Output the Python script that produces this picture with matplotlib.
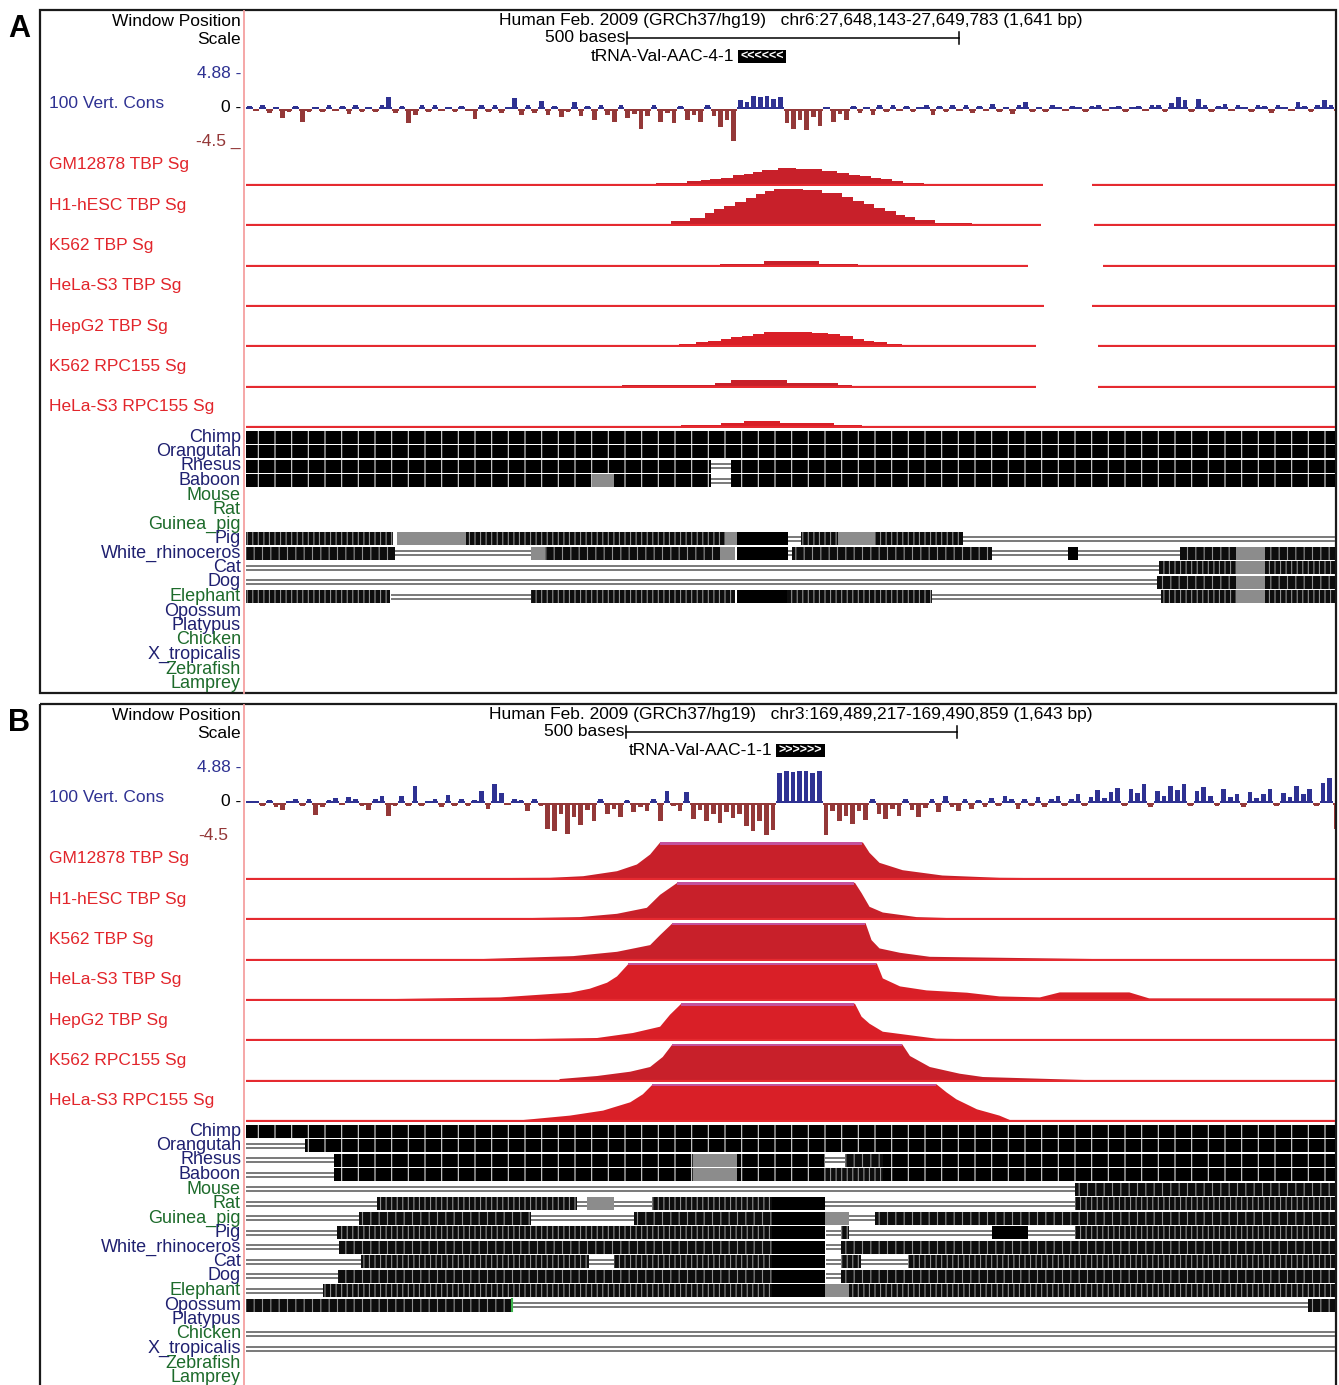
import numpy as np
import matplotlib
matplotlib.use('Agg')
import matplotlib.pyplot as plt
from matplotlib.patches import Rectangle

# ---------------- data ----------------
TRACK_NAMES = ['GM12878 TBP Sg', 'H1-hESC TBP Sg', 'K562 TBP Sg', 'HeLa-S3 TBP Sg',
               'HepG2 TBP Sg', 'K562 RPC155 Sg', 'HeLa-S3 RPC155 Sg']
SPECIES = ['Chimp', 'Orangutan', 'Rhesus', 'Baboon', 'Mouse', 'Rat', 'Guinea_pig', 'Pig',
           'White_rhinoceros', 'Cat', 'Dog', 'Elephant', 'Opossum', 'Platypus', 'Chicken',
           'X_tropicalis', 'Zebrafish', 'Lamprey']

A_HEADER = 'Human Feb. 2009 (GRCh37/hg19)   chr6:27,648,143-27,649,783 (1,641 bp)'
B_HEADER = 'Human Feb. 2009 (GRCh37/hg19)   chr3:169,489,217-169,490,859 (1,643 bp)'
A_SPAN, B_SPAN = 1641, 1643
SCALE_BP = 500
A_SCALE_START, B_SCALE_START = 574, 573
A_GENE = ('tRNA-Val-AAC-4-1', 741, 814, '-')
B_GENE = ('tRNA-Val-AAC-1-1', 799, 873, '+')

# 100 vertebrate conservation, 10 bp bins
A_CONS = [0.4, -0.3, 0.5, -0.6, 0.3, -1.3, -0.5, 0.4, -1.8, -0.4,
          0.3, -0.5, 0.5, -0.3, 0.4, -0.7, 0.6, -0.4, 0.3, -0.5,
          0.5, 1.6, -0.6, 0.4, -2.0, -0.8, 0.5, -0.4, 0.6, -0.3,
          0.3, -0.5, 0.4, -0.3, -1.4, 0.5, -0.4, 0.6, -0.6, 0.3,
          1.5, -0.8, 0.5, -0.6, 1.1, -0.9, 0.4, -1.2, -0.5, 1.0,
          -1.0, 0.4, -1.5, 0.6, -0.8, -1.9, 0.5, -1.3, -0.7, -2.8,
          -1.0, 0.6, -1.9, -0.6, -2.0, 0.4, -1.5, -0.8, -1.9, 0.6,
          -1.0, -2.6, -1.5, -4.5, 1.3, 1.0, 1.8, 1.6, 1.8, 1.4,
          1.6, -2.0, -2.8, -1.6, -3.0, -1.2, -2.4, 0.3, -1.8, -0.7,
          -1.5, 0.4, -0.6, 0.3, -0.8, 0.5, -0.4, 0.6, -0.3, 0.4,
          -0.5, 0.3, 0.5, -0.9, 0.4, -0.4, 0.6, -0.3, 0.5, -0.6,
          0.4, -0.3, 0.7, -0.5, 0.3, -0.7, 0.5, 1.0, -0.4, 0.3,
          -0.4, 0.5, 0.3, -0.3, 0.4, 0.3, -0.5, 0.4, 0.6, -0.3,
          0.3, 0.4, -0.5, 0.3, 0.4, -0.3, 0.5, 0.6, -0.4, 0.8,
          1.7, 1.2, -0.4, 1.4, 0.6, -0.5, 0.4, 0.7, -0.3, 0.5,
          0.3, -0.4, 0.5, 0.4, -0.6, 0.6, 0.3, -0.3, 1.0, 0.4,
          -0.5, 0.6, 1.2, 0.5, -0.4]
B_CONS = [0.3, 0.2, -0.4, 0.4, -0.6, -1.0, 0.3, 0.5, -0.4, 0.6,
          -1.7, -0.6, 0.4, 0.7, -0.3, 0.8, 0.5, -0.4, -1.0, 0.6,
          0.9, -1.8, -0.4, 1.0, -0.5, 2.3, -0.4, 0.3, 0.5, -0.6,
          1.1, -0.5, 0.6, -0.4, 0.4, 1.7, -0.8, 2.7, 1.4, -0.3,
          0.5, 0.4, -1.2, 0.6, -0.5, -3.6, -3.9, -1.5, -4.3, -2.0,
          -3.1, -1.0, -2.6, 0.5, -1.5, -0.8, -2.0, 0.4, -1.3, -0.6,
          -1.2, 0.6, -2.5, 1.6, -0.5, -1.1, 1.5, -2.2, -1.0, -2.5,
          -1.6, -2.8, -1.3, -2.1, -1.5, -3.3, -4.0, -2.6, -4.6, -3.8,
          4.2, 4.5, 4.3, 4.4, 4.4, 4.2, 4.5, -4.5, -1.2, -2.6,
          -1.8, -3.0, -1.2, -2.4, 0.5, -1.6, -2.2, -0.8, -1.9, 0.6,
          -1.0, -2.0, -0.7, 0.6, -1.3, 0.9, -0.6, -1.1, 0.5, -0.8,
          0.4, -0.6, 0.7, -0.5, 0.9, 0.6, -0.8, 0.5, -0.4, 0.8,
          -0.6, 0.5, 0.9, -0.5, 0.6, 1.2, -0.4, 0.8, 1.8, 0.7,
          1.5, 2.1, -0.5, 1.9, 1.4, 2.6, -0.6, 1.7, 0.9, 2.3,
          1.8, 2.7, -0.5, 1.6, 2.2, 1.0, -0.4, 1.9, 0.8, 1.3,
          -0.6, 1.5, 0.7, 1.2, 2.0, -0.5, 1.4, 0.8, 2.4, 1.2,
          1.9, -0.5, 2.8, 3.5, -3.7]

# TBP / RPC155 signal, panel A (stepped), positions in bp from window start
A_POS = [[0, 618, 665, 686, 699, 716, 734, 750, 764, 778, 802, 829, 868, 891, 909, 925, 942, 957, 974, 990, 1022],
         [0, 603, 640, 669, 692, 705, 720, 737, 753, 768, 782, 796, 839, 868, 898, 915, 931, 946, 963, 980, 993, 1008, 1038, 1094],
         [0, 714, 781, 864, 922],
         [0],
         [0, 653, 678, 696, 716, 731, 747, 764, 781, 853, 877, 895, 915, 931, 946, 966, 988],
         [0, 567, 707, 731, 815, 892, 913],
         [0, 656, 716, 750, 805, 886, 928]]
A_VAL = [[0, 1.7, 4, 5, 6.5, 7.5, 10, 11, 13, 15, 17, 16, 14.5, 12, 10.5, 9, 7.5, 6, 4, 2, 0],
         [0, 1.5, 4, 7.5, 12.5, 16, 19, 23, 27, 31, 34, 36.5, 35, 32, 28, 24, 21, 17, 14, 10, 8, 5, 2.5, 0],
         [0, 2, 4.3, 2, 0],
         [0],
         [0, 2, 4.3, 5.7, 7.3, 9, 10.7, 12.7, 14, 13, 12.3, 10, 7.7, 5.7, 4, 2.3, 0],
         [0, 2, 4, 6.3, 4, 2, 0],
         [0, 2, 4, 5.7, 4, 2, 0]]
A_COVER = [[(0, 1201), (1275, 1641)], [(0, 1198), (1278, 1641)], [(0, 1178), (1291, 1641)],
           [(0, 1203), (1275, 1641)], [(0, 1190), (1284, 1641)], [(0, 1190), (1284, 1641)],
           [(0, 1641)]]

# panel B signal (values above the view limit are clipped)
B_POS = [[0, 250, 255, 458, 508, 559, 589, 609, 624, 930, 940, 955, 990, 1050, 1136, 1264, 1270, 1643],
         [0, 365, 368, 503, 559, 604, 624, 650, 918, 928, 940, 960, 1011, 1071, 1227, 1643],
         [0, 350, 353, 493, 559, 609, 624, 643, 934, 943, 955, 986, 1031, 1287, 1292, 1643],
         [0, 185, 187, 383, 488, 518, 544, 559, 577, 951, 960, 986, 1026, 1087, 1136, 1197, 1227, 1332, 1362, 1643],
         [0, 365, 368, 529, 583, 624, 639, 656, 918, 928, 940, 960, 1041, 1136, 1140, 1643],
         [0, 470, 473, 529, 579, 609, 628, 643, 989, 1001, 1031, 1076, 1111, 1264, 1270, 1643],
         [0, 410, 413, 488, 538, 579, 598, 613, 1041, 1056, 1071, 1102, 1136, 1151, 1155, 1643]]
B_VAL = [[0, 0, 1, 1.7, 3.3, 8.3, 15, 25, 40, 40, 26.7, 16.7, 9.3, 4, 1.7, 1, 0, 0],
         [0, 0, 1, 2.7, 6, 12, 25, 40, 40, 26.7, 13, 7.3, 2.7, 1.5, 1, 1],
         [0, 0, 1, 4, 8.3, 15, 25, 40, 40, 20, 11.7, 7.3, 3.3, 1, 0, 0],
         [0, 0, 1, 3, 7.7, 11.7, 17.7, 24, 40, 40, 22, 14, 10, 7.7, 4, 3, 8, 8, 2, 2],
         [0, 0, 1, 2.7, 7.7, 14, 26, 40, 40, 24, 17, 9, 2, 1, 0, 0],
         [0, 0, 2, 5, 9.3, 14, 24, 40, 40, 25, 14, 7.3, 4, 1, 0, 0],
         [0, 0, 1, 5.7, 10.7, 19, 27, 40, 40, 29, 22, 12, 5.7, 1.5, 0, 0]]
B_COVER = [[(0, 1643)]] * 7

# multiz alignment: (start, end, kind)  b=aligned, m=mixed, s=identical, g=low, l=gap line
A_ALIGN = [
    [(0, 1641, 'b')],
    [(0, 1641, 'b')],
    [(0, 701, 'b'), (701, 731, 'l'), (731, 1641, 'b')],
    [(0, 521, 'b'), (521, 555, 'g'), (555, 701, 'b'), (701, 731, 'l'), (731, 1641, 'b')],
    [], [], [],
    [(0, 222, 'm'), (228, 332, 'g'), (332, 722, 'm'), (722, 740, 'g'), (740, 817, 's'), (817, 836, 'l'),
     (836, 892, 'm'), (892, 948, 'g'), (948, 1081, 'm'), (1081, 1641, 'l')],
    [(0, 225, 'm'), (225, 430, 'l'), (430, 451, 'g'), (451, 714, 'm'), (714, 737, 'g'), (740, 817, 's'),
     (817, 823, 'l'), (823, 1124, 'm'), (1124, 1239, 'l'), (1239, 1254, 's'), (1254, 1408, 'l'),
     (1408, 1492, 'm'), (1492, 1536, 'g'), (1536, 1641, 'm')],
    [(0, 1376, 'l'), (1376, 1492, 'm'), (1492, 1536, 'g'), (1536, 1641, 'm')],
    [(0, 1373, 'l'), (1373, 1492, 'm'), (1492, 1536, 'g'), (1536, 1641, 'm')],
    [(0, 217, 'm'), (219, 430, 'l'), (430, 737, 'm'), (740, 815, 's'), (815, 1034, 'm'), (1034, 1379, 'l'),
     (1379, 1492, 'm'), (1492, 1536, 'g'), (1536, 1641, 'm')],
    [], [], [], [], [], []]
B_ALIGN = [
    [(0, 1643, 'b')],
    [(0, 89, 'l'), (89, 1643, 'b')],
    [(0, 133, 'l'), (133, 675, 'b'), (675, 741, 'g'), (741, 874, 'b'), (874, 904, 'l'), (904, 961, 'm'), (961, 1643, 'b')],
    [(0, 133, 'l'), (133, 675, 'b'), (675, 741, 'g'), (741, 874, 'b'), (874, 961, 'm'), (961, 1643, 'b')],
    [(0, 1251, 'l'), (1251, 1643, 'm')],
    [(0, 197, 'l'), (197, 500, 'm'), (500, 515, 'l'), (515, 555, 'g'), (555, 612, 'l'), (612, 793, 'm'),
     (793, 874, 's'), (874, 1251, 'l'), (1251, 1643, 'm')],
    [(0, 170, 'l'), (170, 430, 'm'), (430, 586, 'l'), (586, 793, 'm'), (793, 874, 's'), (874, 910, 'g'),
     (910, 949, 'l'), (949, 1643, 'm')],
    [(0, 137, 'l'), (137, 793, 'm'), (793, 874, 's'), (875, 898, 'l'), (898, 910, 'm'), (910, 1126, 'l'),
     (1126, 1180, 's'), (1180, 1251, 'l'), (1251, 1643, 'm')],
    [(0, 140, 'l'), (140, 793, 'm'), (793, 874, 's'), (875, 898, 'l'), (898, 1643, 'm')],
    [(0, 173, 'l'), (173, 518, 'm'), (518, 555, 'l'), (555, 793, 'm'), (793, 874, 's'), (875, 898, 'l'),
     (898, 928, 'm'), (928, 999, 'l'), (999, 1643, 'm')],
    [(0, 139, 'l'), (139, 793, 'm'), (793, 874, 's'), (875, 898, 'l'), (898, 1643, 'm')],
    [(0, 116, 'l'), (116, 793, 'm'), (793, 874, 's'), (874, 910, 'g'), (910, 1643, 'm')],
    [(0, 401, 'm'), (401, 1603, 'l'), (1603, 1643, 'm')],
    [],
    [(0, 1643, 'l')],
    [(0, 1643, 'l')],
    [], []]
B_OPOSSUM_BREAK = 401

# ---------------- style ----------------
W, H = 1339, 1385
FS = 12.5
BLUE = '#2e3192'
BROWN = '#943838'
LABEL_RED = '#e2252b'
BASE_RED = '#e52a30'
DARK = '#c8202a'
BRIGHT = '#d91f27'
MAGENTA = '#c4529c'
NAVY = '#1f2070'
GREEN = '#1d6b2b'
TRACK_FILL = [DARK, DARK, DARK, BRIGHT, BRIGHT, DARK, BRIGHT]
SP_COLORS = [NAVY] * 4 + [GREEN] * 3 + [NAVY] * 4 + [GREEN] + [NAVY] * 2 + [GREEN] + [NAVY] + [GREEN] * 2
CLIP = 37

plt.rcParams['font.family'] = ['Liberation Sans', 'DejaVu Sans']
plt.rcParams['hatch.linewidth'] = 0.8

fig = plt.figure(figsize=(W / 100, H / 100), dpi=100)


def px_axes(x0, y0, x1, y1):
    ax = fig.add_axes([x0 / W, 1 - y1 / H, (x1 - x0) / W, (y1 - y0) / H])
    ax.set_axis_off()
    return ax


bg = px_axes(0, 0, W, H)
bg.set_xlim(0, W)
bg.set_ylim(H, 0)


def draw_panel(top, bottom, letter, header, span, scale_start, gene, cons,
               sig_pos, sig_val, stepped, cover, rows, minus_label, minus_x):
    bot = min(bottom, H)
    bg.add_patch(Rectangle((40, top), 1296, bottom - top, fill=False, lw=1.6, ec='#1a1a1a'))
    bg.text(19, top + 19, letter, fontsize=22, fontweight='bold', ha='center', va='center')
    bg.plot([244, 244], [top + 1, bot], color='#f4a0a0', lw=1.3)
    bg.text(241, top + 11, 'Window Position', ha='right', va='center', fontsize=FS)
    bg.text(241, top + 29, 'Scale', ha='right', va='center', fontsize=FS)

    # header, scale bar and gene
    hd = px_axes(246, top, 1335, top + 66)
    hd.set_xlim(0, span)
    hd.set_ylim(66, 0)
    hd.text(span / 2, 11, header, ha='center', va='center', fontsize=FS)
    s0, s1 = scale_start, scale_start + SCALE_BP
    hd.plot([s0, s1], [28, 28], color='k', lw=1.1)
    hd.plot([s0, s0], [22, 34], color='k', lw=1.1)
    hd.plot([s1, s1], [22, 34], color='k', lw=1.1)
    hd.text(s0 - 2, 28, '500 bases', ha='right', va='center', fontsize=FS)
    name, g0, g1, strand = gene
    hd.add_patch(Rectangle((g0, 40), g1 - g0, 13, color='k', lw=0))
    hd.text((g0 + g1) / 2, 46.5, ('<' if strand == '-' else '>') * 6, color='white',
            fontsize=9, fontweight='bold', ha='center', va='center')
    hd.text(g0 - 5, 46.5, name, ha='right', va='center', fontsize=FS)

    # conservation
    bg.text(49, top + 94, '100 Vert. Cons', color=BLUE, ha='left', va='center', fontsize=FS)
    bg.text(241, top + 64, '4.88 -', color=BLUE, ha='right', va='center', fontsize=FS)
    bg.text(241, top + 98, '0 -', color='k', ha='right', va='center', fontsize=FS)
    bg.text(minus_x, top + 131, minus_label, color=BROWN, ha='right', va='center', fontsize=FS)
    cv = px_axes(246, top + 64, 1335, top + 131)
    cv.set_xlim(0, span)
    cv.set_ylim(-4.5, 4.88)
    c = np.array(cons)
    x = np.arange(len(c)) * 10
    cols = np.where(c > 0, BLUE, BROWN)
    # thin continuous baseline, then narrower spikes
    cv.bar(x, np.clip(c, -0.25, 0.25), width=10, align='edge', color=cols, lw=0)
    cv.bar(x + 1.5, c, width=7, align='edge', color=cols, lw=0)

    # ChIP-seq signal tracks
    for k, tname in enumerate(TRACK_NAMES):
        yb = top + 175 + 40.3 * k
        ax = px_axes(246, yb - 38, 1335, yb + 1)
        ax.set_xlim(0, span)
        ax.set_ylim(-1, 38)
        bg.text(49, yb - 20, tname, color=LABEL_RED, ha='left', va='center', fontsize=FS)
        xs = np.array(sig_pos[k] + [span], float)
        ys = np.array(sig_val[k] + [sig_val[k][-1]], float)
        yc = np.minimum(ys, CLIP)
        if stepped:
            ax.fill_between(xs, 0, yc, step='post', color=TRACK_FILL[k], lw=0)
        else:
            ax.fill_between(xs, 0, yc, color=TRACK_FILL[k], lw=0)
            ax.fill_between(xs, CLIP - 2.5, CLIP, where=ys >= CLIP, color=MAGENTA, lw=0)
        for s, e in cover[k]:
            ax.plot([s, e], [0, 0], color=BASE_RED, lw=1.6, solid_capstyle='butt')

    # alignment
    al = px_axes(246, top + 420, 1335, top + 420 + 14.5 * 18)
    al.set_xlim(0, span)
    al.set_ylim(18, 0)
    for i, sp in enumerate(SPECIES):
        bg.text(241, top + 427 + 14.5 * i, sp, ha='right', va='center', fontsize=13,
                color=SP_COLORS[i])
        mh = '||' if i % 2 == 0 else '|||'
        for s, e, kind in rows[i]:
            if kind == 'l':
                al.hlines([i + 0.36, i + 0.64], s, e, color='#6e6e6e', lw=1.3)
            elif kind == 'b':
                al.broken_barh([(s, e - s)], (i + 0.06, 0.88), facecolors='black',
                               edgecolors='#d8d8d8', hatch='|', linewidth=0)
            elif kind == 'm':
                al.broken_barh([(s, e - s)], (i + 0.06, 0.88), facecolors='#0d0d0d',
                               edgecolors='#8f8f8f', hatch=mh, linewidth=0)
            elif kind == 'g':
                al.broken_barh([(s, e - s)], (i + 0.06, 0.88), facecolors='#8c8c8c', linewidth=0)
            else:
                al.broken_barh([(s, e - s)], (i + 0.06, 0.88), facecolors='black', linewidth=0)
    return al


draw_panel(10, 693, 'A', A_HEADER, A_SPAN, A_SCALE_START, A_GENE, A_CONS,
           A_POS, A_VAL, True, A_COVER, A_ALIGN, '-4.5 _', 241)
al_b = draw_panel(704, 1400, 'B', B_HEADER, B_SPAN, B_SCALE_START, B_GENE, B_CONS,
                  B_POS, B_VAL, False, B_COVER, B_ALIGN, '-4.5', 228)
al_b.plot([B_OPOSSUM_BREAK, B_OPOSSUM_BREAK], [12.1, 12.9], color='#3cb44b', lw=1.5)

fig.savefig('out.png', dpi=100)
